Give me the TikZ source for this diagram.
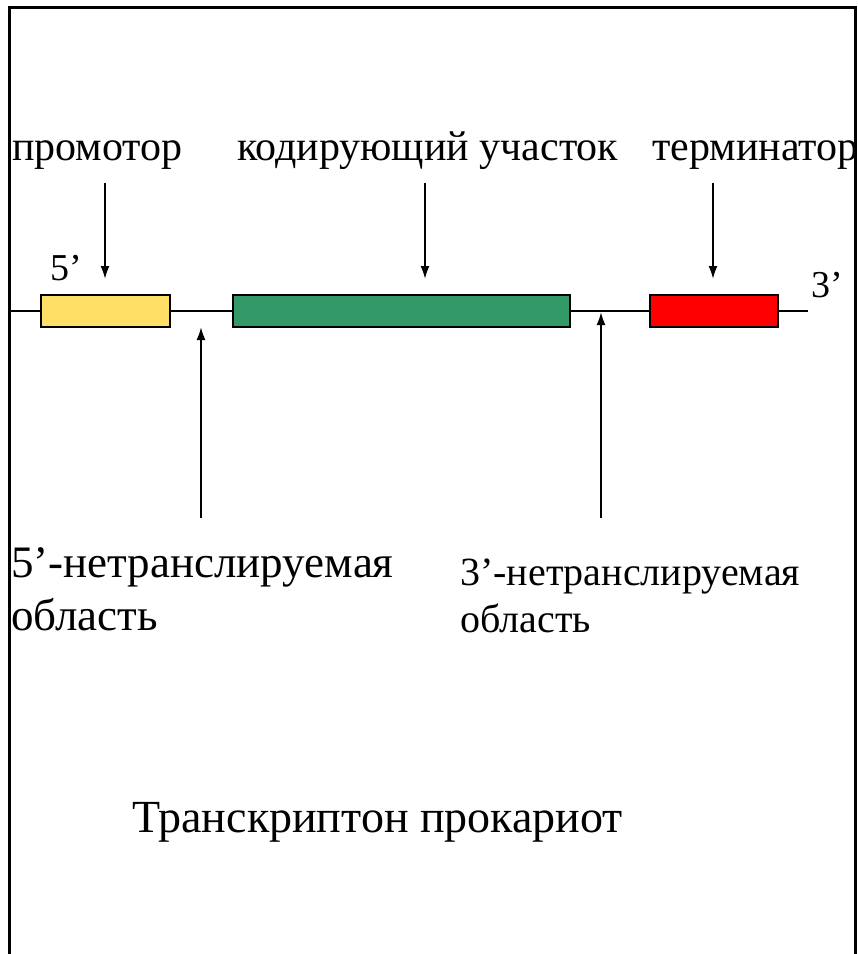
\documentclass[tikz,border=0pt]{standalone}
\usepackage{fontspec}
\setmainfont{Liberation Serif}
\usetikzlibrary{arrows.meta}
\definecolor{promcol}{HTML}{FFDF66}
\definecolor{codecol}{HTML}{339966}
\definecolor{termcol}{HTML}{FF0000}
\tikzset{
  lbl/.style={anchor=base west, inner sep=0pt, font=\fontsize{42}{48}\selectfont},
  endlbl/.style={anchor=base west, inner sep=0pt, font=\fontsize{38}{44}\selectfont},
  utrA/.style={anchor=base west, inner sep=0pt, font=\fontsize{45}{54}\selectfont},
  utrB/.style={anchor=base west, inner sep=0pt, font=\fontsize{40}{48}\selectfont},
  titlelbl/.style={anchor=base west, inner sep=0pt, font=\fontsize{46}{56}\selectfont},
  region/.style={draw=black, line width=2.3pt, inner sep=0pt, minimum height=32pt, anchor=west},
  ptr/.style={line width=2pt, -{Latex[length=13pt,width=9pt]}},
}
\begin{document}
\begin{tikzpicture}[x=1pt,y=-1pt]
\useasboundingbox (0,0) rectangle (858,954);
% outer frame, open at the bottom
\draw[line width=3pt] (9,954) -- (9,7) -- (855,7) -- (855,954);

% DNA strand with its three regions
\coordinate (sL) at (9,311);
\coordinate (sR) at (808,311);
\draw[line width=2.3pt] (sL) -- (sR);
\node[region, fill=promcol, minimum width=129pt] (prom) at (40,311) {};
\node[region, fill=codecol, minimum width=337pt] (code) at (232,311) {};
\node[region, fill=termcol, minimum width=128pt] (term) at (649,311) {};

% strand ends
\node[endlbl] (end5) at (50,280) {5’};
\node[endlbl] (end3) at (811,297) {3’};

% region names above the strand
\node[lbl] (tprom) at (12,160) {промотор};
\node[lbl] (tcode) at (237,160) {кодирующий участок};
\node[lbl] (tterm) at (652,160) {терминатор};

\coordinate (aprom) at (105,183);
\coordinate (acode) at (425,183);
\coordinate (aterm) at (713,183);
\draw[ptr] (aprom) -- (105,279);
\draw[ptr] (acode) -- (425,279);
\draw[ptr] (aterm) -- (713,279);

% untranslated regions below the strand
\coordinate (u5) at (201,518);
\coordinate (u3) at (601,518);
\draw[ptr] (u5) -- (201,327);
\draw[ptr] (u3) -- (601,312);

\node[utrA] (utr5a) at (11,577) {5’-нетранслируемая};
\node[utrA] (utr5b) at (11,630) {область};
\node[utrB] (utr3a) at (460,585) {3’-нетранслируемая};
\node[utrB] (utr3b) at (460,632) {область};

% caption
\node[titlelbl] (title) at (132,832) {Транскриптон прокариот};
\end{tikzpicture}
\end{document}
